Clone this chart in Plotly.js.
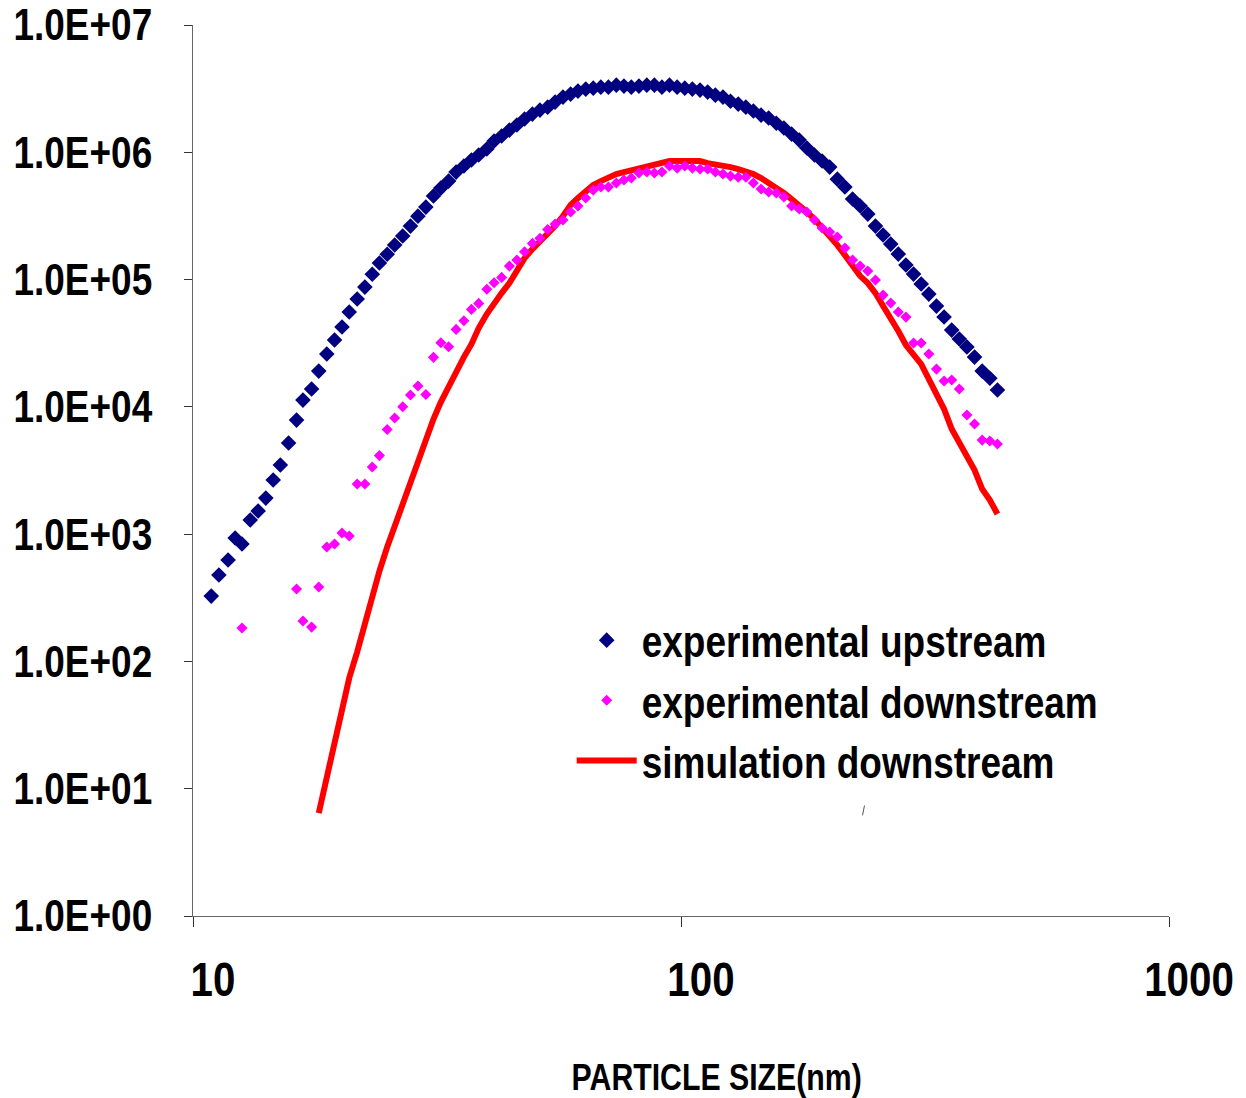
<!DOCTYPE html>
<html>
<head>
<meta charset="utf-8">
<script src="https://cdn.plot.ly/plotly-3.0.1.min.js"></script>
<style>
  html, body { margin: 0; padding: 0; background: #ffffff; }
  #chart { width: 1246px; height: 1098px; }
</style>
</head>
<body>
<div id="chart"></div>
<script>
// Particle size channels (nm)
const particleSize = [10.9,11.3,11.8,12.2,12.6,13.1,13.6,14.1,14.6,15.1,15.7,16.3,16.8,17.5,18.1,18.8,19.5,20.2,20.9,21.7,22.5,23.3,24.1,25.0,25.9,26.9,27.9,28.9,30.0,31.1,32.2,33.4,34.6,35.9,37.2,38.5,40.0,41.4,42.9,44.5,46.1,47.8,49.6,51.4,53.3,55.2,57.3,59.4,61.5,63.8,66.1,68.5,71.0,73.7,76.4,79.1,82.0,85.1,88.2,91.4,94.7,98.2,101.8,105.5,109.4,113.4,117.6,121.9,126.3,131.0,135.8,140.7,145.9,151.2,156.8,162.5,168.5,174.7,181.1,187.7,194.6,201.7,209.1,216.7,224.7,232.9,241.4,250.3,259.5,269.0,278.8,289.0,299.6,310.6,322.0,333.8,346.0,358.7,371.8,385.4,399.5,414.2,429.4,445.1];

// experimental upstream
const upstream = [326,477,626,932,836,1290,1520,1920,2660,3490,5200,7870,11300,13800,19100,26000,33500,42400,55600,70300,87300,110000,135000,158000,187000,220000,263000,315000,371000,453000,523000,594000,699000,780000,869000,951000,1060000,1225000,1341000,1494000,1636000,1824000,1995000,2145000,2263000,2478000,2714000,2865000,3025000,3135000,3192000,3250000,3250000,3370000,3310000,3250000,3310000,3370000,3370000,3250000,3370000,3250000,3192000,3135000,3080000,2970000,2810000,2714000,2520000,2390000,2263000,2110000,1960000,1860000,1690000,1550000,1390000,1247000,1080000,951000,853000,765000,615000,533000,429000,378000,327000,263000,224000,190000,158500,130000,110400,92200,76900,61900,50800,40100,34100,29500,24600,19100,16800,13550];

// experimental downstream (null = no count)
const downstream = [null,null,null,null,183,null,null,null,null,null,null,371,208,186,384,792,836,1020,966,2475,2475,3370,4140,6630,8170,10020,12380,14560,12500,24480,31900,29650,40600,47450,58300,65000,83800,94400,104000,127600,142300,165200,192400,210800,247800,273000,293300,339000,378000,436700,504600,533000,533000,573000,605000,627000,687000,699000,687000,699000,780000,751000,780000,751000,738000,738000,699000,674000,650000,638000,638000,573000,514000,487000,478000,445000,378000,358000,339000,293300,254000,236000,216000,176700,142300,127600,116600,99100,75500,65400,55600,50700,31700,31700,26000,19800,15950,16250,13800,8620,7330,5480,5390,5100];

// simulation downstream
const simulation = [null,null,null,null,null,null,null,null,null,null,null,null,null,null,6.44,12.1,23.3,40.1,74.1,119,204,326,513,792,1158,1755,2660,3820,5480,8020,10900,14560,19100,24600,31100,41600,53600,65300,78300,93800,118800,147500,173700,197100,227600,263000,315500,385000,436700,495500,552300,594000,638600,674500,698600,724600,751300,765000,793700,822600,853000,853000,853000,853000,853000,822600,807600,779600,765000,738000,711500,674500,627000,573000,533000,478400,428800,385000,339000,298600,258400,223700,186600,155700,127600,106500,93800,78300,61900,49900,39400,30600,25500,21700,16530,12830,9610,6690,5200,4110,3190,2260,1853,1439];

const yTickVals = [1,10,100,1000,10000,100000,1000000,10000000];
const yTickText = ['1.0E+00','1.0E+01','1.0E+02','1.0E+03','1.0E+04','1.0E+05','1.0E+06','1.0E+07'];
const xTickVals = [10,100,1000];
const xTickText = ['10','100','1000'];

const FONT = '"Liberation Sans Narrow", "Arial Narrow", "Liberation Sans", Arial, sans-serif';
const NARROW = 0.84; // horizontal condensation of the original's narrow bold font

const traces = [
  {
    x: particleSize, y: simulation, type: 'scatter', mode: 'lines',
    name: 'simulation downstream', legendrank: 3,
    line: {color: '#FF0000', width: 6}, connectgaps: false
  },
  {
    x: particleSize, y: upstream, type: 'scatter', mode: 'markers',
    name: 'experimental upstream', legendrank: 1,
    marker: {symbol: 'diamond', size: 12, color: '#000080'}
  },
  {
    x: particleSize, y: downstream, type: 'scatter', mode: 'markers',
    name: 'experimental downstream', legendrank: 2,
    marker: {symbol: 'diamond', size: 8.5, color: '#FF00FF'}
  }
];

const layout = {
  width: 1246, height: 1098,
  paper_bgcolor: '#ffffff', plot_bgcolor: '#ffffff',
  margin: {l: 193, r: 77, t: 25, b: 182},
  font: {family: FONT, color: '#000000', weight: 'bold'},
  xaxis: {
    type: 'log', range: [1, 3],
    tickvals: xTickVals, ticktext: xTickText,
    ticks: 'outside', ticklen: 10, tickcolor: '#333333', tickwidth: 1,
    showline: true, linecolor: '#666666', linewidth: 1,
    showgrid: false, zeroline: false,
    tickfont: {family: FONT, size: 48, color: '#000000', weight: 'bold'},
    ticklabelshift: 20, ticklabelstandoff: 11, ticklabeloverflow: 'allow'
  },
  yaxis: {
    type: 'log', range: [0, 7],
    tickvals: yTickVals, ticktext: yTickText,
    ticks: 'outside', ticklen: 8, tickcolor: '#333333', tickwidth: 1,
    showline: true, linecolor: '#666666', linewidth: 1,
    showgrid: false, zeroline: false,
    tickfont: {family: FONT, size: 44, color: '#000000', weight: 'bold'},
    ticklabelstandoff: 23, ticklabeloverflow: 'allow'
  },
  showlegend: true,
  legend: {
    x: 0.388, y: 0.349, xanchor: 'left', yanchor: 'top',
    bgcolor: 'rgba(0,0,0,0)', borderwidth: 0,
    itemwidth: 60, traceorder: 'normal',
    font: {family: FONT, size: 44, color: '#000000', weight: 'bold'}
  },
  annotations: [
    {
      text: 'PARTICLE SIZE(nm)', xref: 'paper', yref: 'paper',
      x: 0.536, y: -0.181, xanchor: 'center', yanchor: 'middle',
      showarrow: false,
      font: {family: FONT, size: 36, color: '#000000', weight: 'bold'}
    }
  ],
  shapes: [
    {type: 'line', xref: 'paper', yref: 'paper', x0: 0.686, y0: 0.113, x1: 0.688, y1: 0.124,
     line: {color: '#555555', width: 1}}
  ]
};

Plotly.newPlot('chart', traces, layout, {displayModeBar: false, staticPlot: true}).then(function (gd) {
  // condense the bold text horizontally, like the narrow font of the original
  gd.querySelectorAll('svg text').forEach(function (t) {
    if (!t.textContent) return;
    var len = t.getComputedTextLength();
    if (len > 0) {
      t.setAttribute('textLength', (len * NARROW).toFixed(1));
      t.setAttribute('lengthAdjust', 'spacingAndGlyphs');
    }
  });
});
</script>
</body>
</html>
